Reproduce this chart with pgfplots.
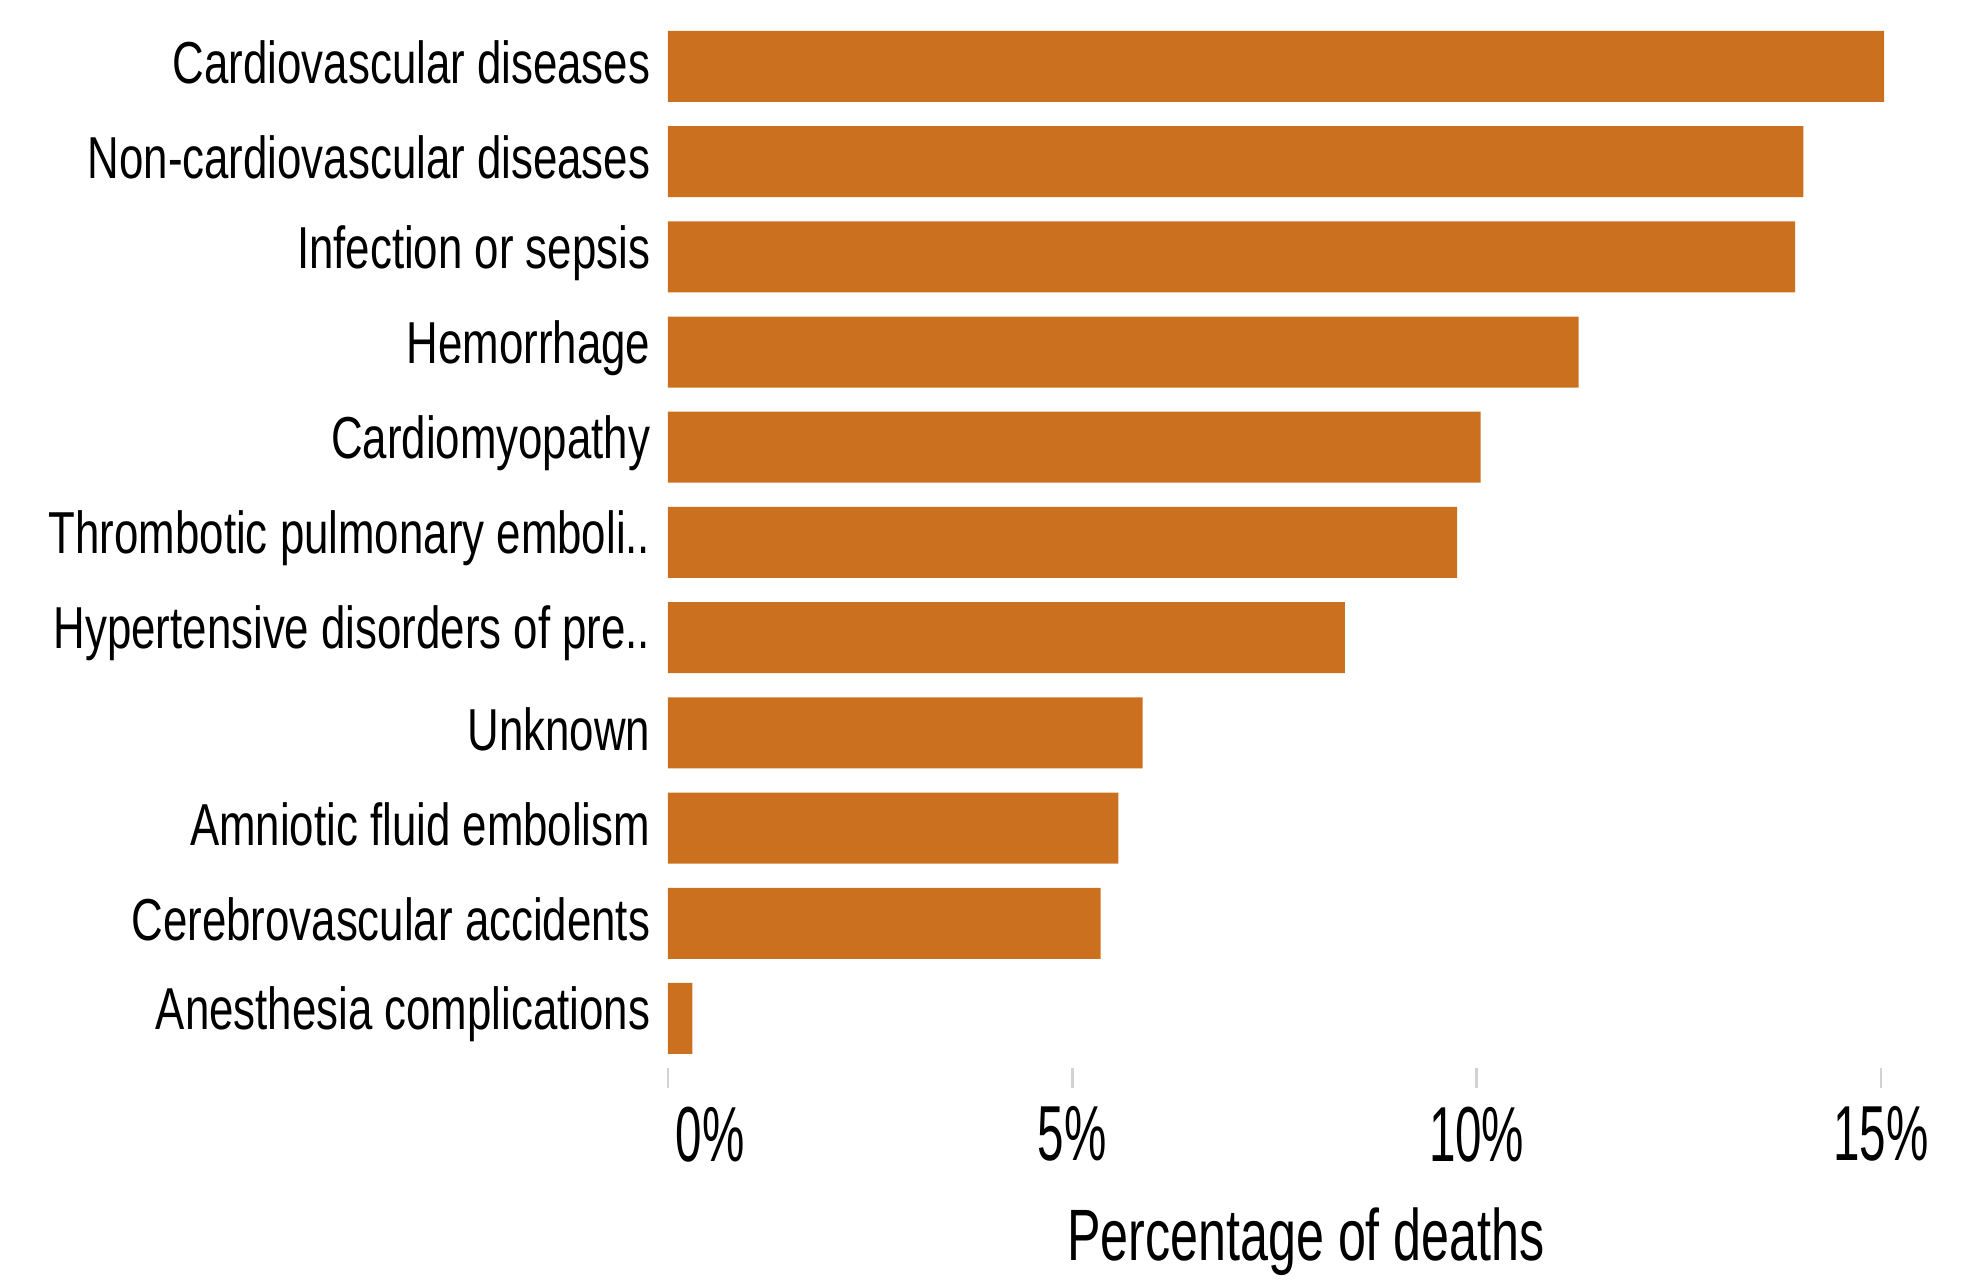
\documentclass[border=0pt]{standalone}
\usepackage{pgfplots}
\pgfplotsset{compat=1.18}
\usepackage{fontspec}
\setmainfont{Liberation Sans}
\newfontfamily\labfont[FakeStretch=0.74]{Liberation Sans}
\newfontfamily\tickfont[FakeStretch=0.61]{Liberation Sans}
\newfontfamily\axfont[FakeStretch=0.69]{Liberation Sans}
\definecolor{barc}{RGB}{203,112,31}
\begin{document}
\begin{tikzpicture}
\useasboundingbox (0,0) rectangle (495.5pt,320pt);
\begin{axis}[
  at={(167pt,53pt)}, anchor=south west,
  scale only axis, width=319pt, height=262.3pt,
  xmin=0, xmax=15.78, ymin=-0.52, ymax=10.5,
  xbar, bar width=17.75pt, bar shift=0pt,
  axis x line*=bottom, axis y line*=left,
  x axis line style={draw=none}, y axis line style={draw=none},
  tick align=outside, major tick length=5pt,
  xtick style={draw=gray!35, line width=0.6pt},
  ytick style={draw=none},
  xtick={0,5,10,15},
  xticklabels={\makebox[0pt][l]{\hspace{2pt}0\%},5\%,10\%,15\%},
  ytick={0,...,10},
  yticklabels={Anesthesia complications, Cerebrovascular accidents, Amniotic fluid embolism, Unknown, Hypertensive disorders of pre.., Thrombotic pulmonary emboli.., Cardiomyopathy, Hemorrhage, Infection or sepsis, Non-cardiovascular diseases, Cardiovascular diseases},
  xticklabel style={font=\tickfont\fontsize{19.5}{22}\selectfont, anchor=north, inner sep=0pt, yshift=-4.5pt},
  yticklabel style={font=\labfont\fontsize{14.8}{17}\selectfont, anchor=east, inner sep=0pt, xshift=0.75pt, yshift=1pt},
  xlabel={Percentage of deaths},
  xlabel style={at={(axis description cs:0.5,0)}, anchor=north, inner sep=0pt, yshift=-34.75pt, font=\axfont\fontsize{18.2}{20}\selectfont},
  clip=false,
]
\addplot[fill=barc, draw=none] coordinates {
(0.30,0) (5.35,1) (5.57,2) (5.87,3) (8.37,4) (9.76,5) (10.05,6) (11.26,7) (13.94,8) (14.04,9) (15.04,10)
};
\end{axis}
\end{tikzpicture}
\end{document}
